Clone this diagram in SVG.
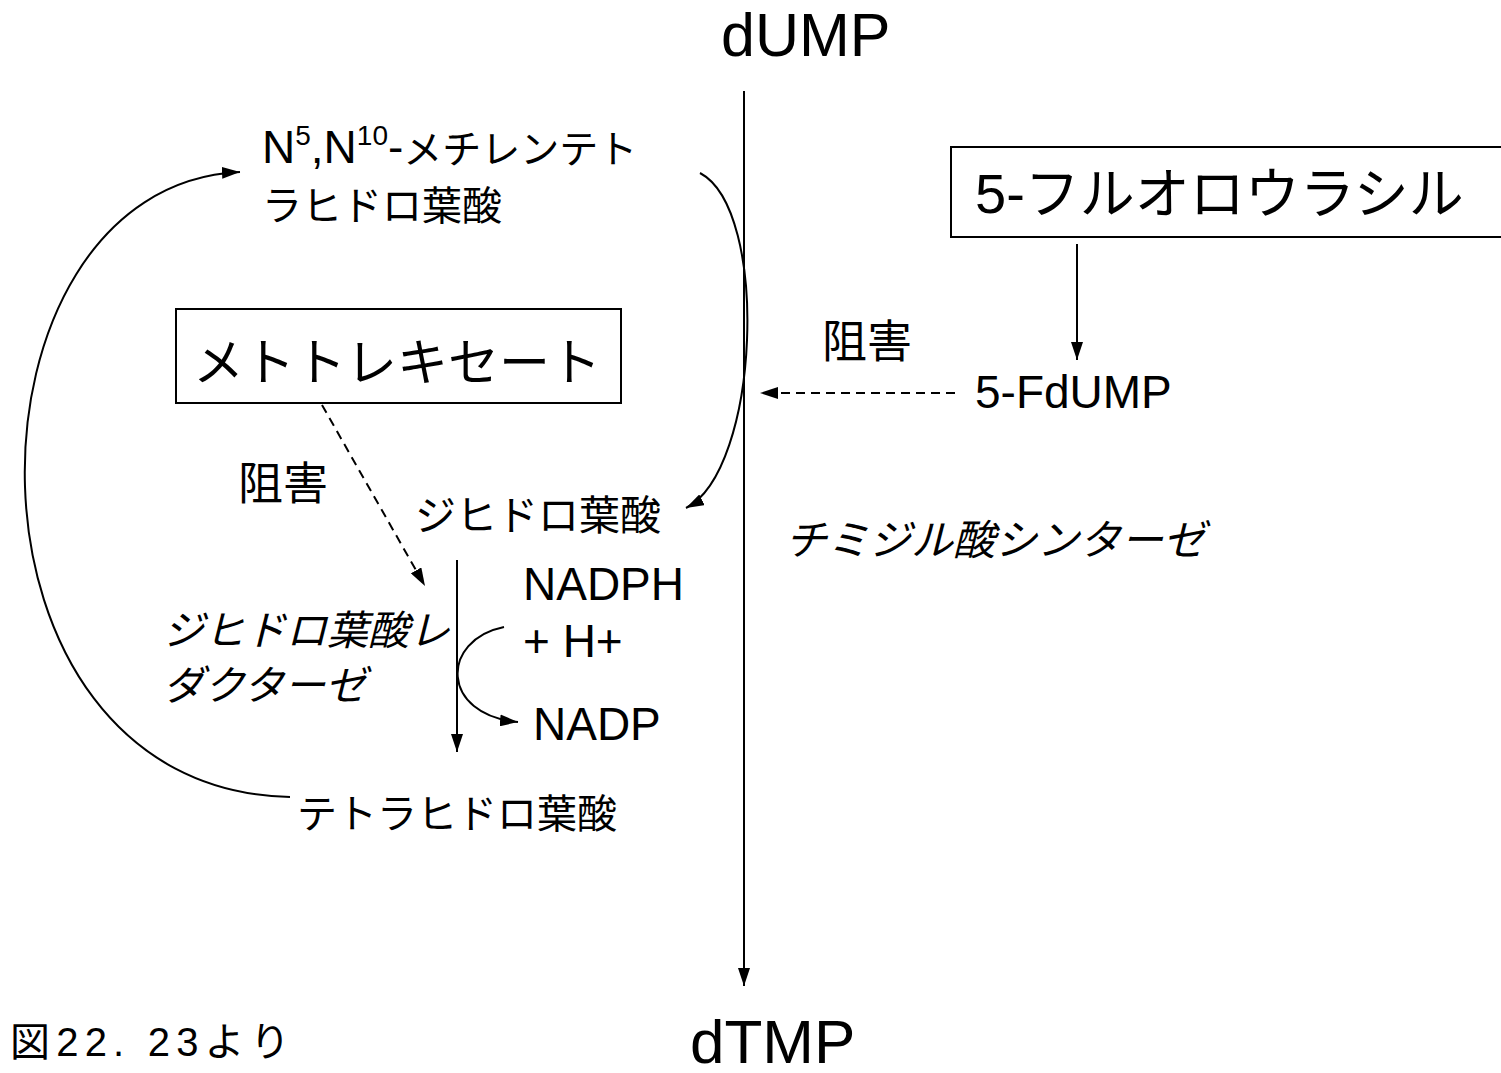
<svg xmlns="http://www.w3.org/2000/svg" width="1501" height="1073" viewBox="0 0 1501 1073">
<defs>
<marker id="ah" viewBox="0 0 18 12" refX="18" refY="6" markerWidth="18" markerHeight="12" markerUnits="userSpaceOnUse" orient="auto">
<path d="M0,0 L18,6 L0,12 Z" fill="#000"/>
</marker>
</defs>
<style>
text{font-family:"Liberation Sans","Noto Sans CJK JP",sans-serif;fill:#000}
.jp{font-family:"Noto Sans CJK JP",sans-serif}
.it{font-style:italic}
.ln{fill:none;stroke:#000;stroke-width:2}
.dash{fill:none;stroke:#000;stroke-width:2;stroke-dasharray:9,6}
.box{fill:#fff;stroke:#000;stroke-width:2}
</style>
<rect width="1501" height="1073" fill="#fff"/>
<g id="connectors">
<line class="ln" x1="744" y1="91" x2="744" y2="986" marker-end="url(#ah)"/>
<path class="ln" d="M700,173 C770,210 760,470 686,508" marker-end="url(#ah)"/>
<path class="ln" d="M290,797 C-60,790 -50,185 240,172" marker-end="url(#ah)"/>
<line class="dash" x1="322" y1="405" x2="425" y2="586" marker-end="url(#ah)"/>
<line class="ln" x1="457" y1="560" x2="457" y2="752" marker-end="url(#ah)"/>
<path class="ln" d="M504,627 C440,640 440,715 518,722" marker-end="url(#ah)"/>
<line class="dash" x1="955" y1="393" x2="760" y2="393" marker-end="url(#ah)"/>
<line class="ln" x1="1077" y1="244" x2="1077" y2="360" marker-end="url(#ah)"/>
</g>
<g id="dUMP"><text x="721" y="56" font-size="61">dUMP</text></g>
<g id="dTMP"><text x="690" y="1063" font-size="62">dTMP</text></g>
<g id="caption"><text x="10" y="1056" font-size="40" textLength="280" lengthAdjust="spacing">図22. 23より</text></g>
<g id="methylene-thf">
<text x="262" y="163" font-size="46">N<tspan font-size="28" dy="-18">5</tspan><tspan dy="18">,N</tspan><tspan font-size="28" dy="-18">10</tspan><tspan dy="18">-</tspan><tspan class="jp" font-size="39">メチレンテト</tspan></text>
<text class="jp" x="262" y="220" font-size="40">ラヒドロ葉酸</text>
</g>
<g id="methotrexate">
<rect class="box" x="176" y="309" width="445" height="94"/>
<text class="jp" x="193" y="381" font-size="51">メトトレキセート</text>
</g>
<g id="inhibit-left"><text class="jp" x="238" y="500" font-size="45">阻害</text></g>
<g id="dhf"><text class="jp" x="415" y="530" font-size="41">ジヒドロ葉酸</text></g>
<g id="nadph">
<text x="523" y="600" font-size="46">NADPH</text>
<text x="523" y="657" font-size="46">+ H+</text>
</g>
<g id="nadp"><text x="533" y="740" font-size="46">NADP</text></g>
<g id="dhfr">
<text class="jp it" x="163" y="645" font-size="41">ジヒドロ葉酸レ</text>
<text class="jp it" x="163" y="700" font-size="41">ダクターゼ</text>
</g>
<g id="thf"><text class="jp" x="297" y="828" font-size="40">テトラヒドロ葉酸</text></g>
<g id="inhibit-right"><text class="jp" x="822" y="358" font-size="45">阻害</text></g>
<g id="fdump"><text x="975" y="408" font-size="46">5-FdUMP</text></g>
<g id="ts"><text class="jp it" x="785" y="555" font-size="42">チミジル酸シンターゼ</text></g>
<g id="fluorouracil">
<rect class="box" x="951" y="147" width="560" height="90"/>
<text x="975" y="213" font-size="56">5-<tspan class="jp" font-size="55">フルオロウラシル</tspan></text>
</g>
</svg>
